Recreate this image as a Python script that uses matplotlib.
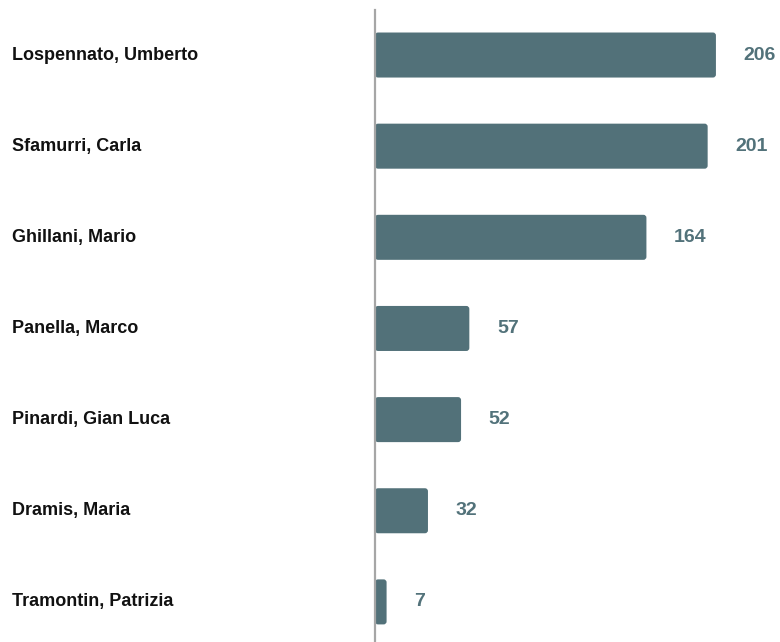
import matplotlib
matplotlib.use("Agg")
import matplotlib.pyplot as plt
from matplotlib.patches import FancyBboxPatch
from matplotlib.transforms import blended_transform_factory

plt.rcParams['font.family'] = ['Liberation Sans', 'DejaVu Sans']

names = ["Lospennato, Umberto", "Sfamurri, Carla", "Ghillani, Mario", "Panella, Marco",
         "Pinardi, Gian Luca", "Dramis, Maria", "Tramontin, Patrizia"]
values = [206, 201, 164, 57, 52, 32, 7]

bar_color = "#527179"
label_color = "#52727a"

fig = plt.figure(figsize=(7.8, 6.42), dpi=100)
ax = fig.add_axes([375/780, 0, 405/780, 632/642])

ypos = list(range(len(values)))
bars = ax.barh(ypos, values, height=0.494, color=bar_color)
ax.set_xlim(0, 405/1.655)
ax.set_ylim(len(values) - 1 + 0.44, -0.494)

# rounded corners
px_x = 1/1.655
px_y = 1/91.17
for b in bars:
    b.set_visible(False)
    x0, y0 = b.get_x(), b.get_y()
    w, h = b.get_width(), b.get_height()
    p = FancyBboxPatch((x0, y0), w, h, boxstyle=f"round,pad=0,rounding_size={3*px_x}",
                       mutation_aspect=px_y/px_x, facecolor=bar_color, edgecolor="none")
    ax.add_patch(p)

for s in ["top", "right", "bottom"]:
    ax.spines[s].set_visible(False)
ax.spines["left"].set_color("#a6a6a6")
ax.spines["left"].set_linewidth(1.6)
ax.spines["left"].set_zorder(5)
ax.set_xticks([])
ax.set_yticks([])

for y, v in zip(ypos, values):
    ax.annotate(str(v), xy=(v, y), xytext=(20, 0), textcoords="offset points",
                ha="left", va="center", fontsize=14, fontweight="bold", color=label_color)

trans = blended_transform_factory(fig.transFigure, ax.transData)
for y, n in zip(ypos, names):
    fig.text(12/780, y, n, transform=trans, ha="left", va="center",
             fontsize=13, fontweight="bold", color="#111111")

fig.savefig("out.png", dpi=100)
